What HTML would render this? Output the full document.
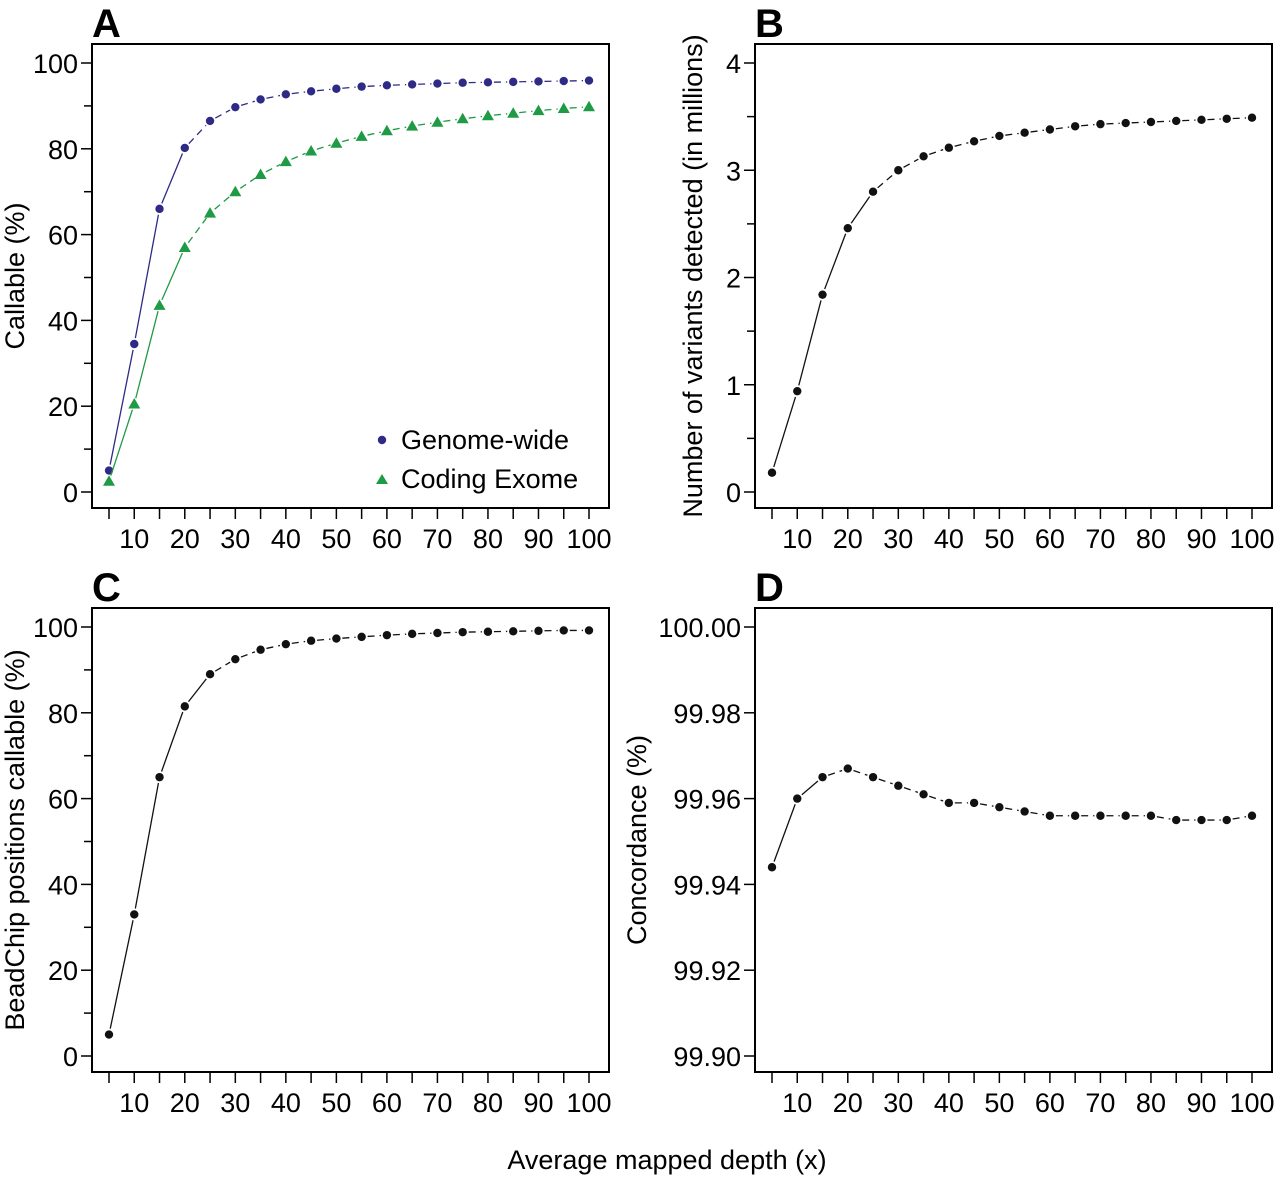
<!DOCTYPE html>
<html><head><meta charset="utf-8">
<style>
html,body{margin:0;padding:0;background:#fff;}
svg{display:block;font-family:"Liberation Sans",Arial,sans-serif;}
</style></head>
<body>
<svg id="fig" width="1280" height="1178" viewBox="0 0 1280 1178" xmlns="http://www.w3.org/2000/svg"></svg>
<script>
const depths = [5,10,15,20,25,30,35,40,45,50,55,60,65,70,75,80,85,90,95,100];
const genomeWide = [5,34.5,66,80.2,86.5,89.7,91.5,92.7,93.4,94,94.5,94.8,95,95.2,95.4,95.5,95.6,95.7,95.8,95.9];
const codingExome = [2.5,20.5,43.5,57,65,70,74,77,79.5,81.3,82.9,84.2,85.3,86.2,87,87.7,88.3,88.9,89.4,89.8];
const variantsMillions = [0.18,0.94,1.84,2.46,2.8,3.0,3.13,3.21,3.27,3.32,3.35,3.38,3.41,3.43,3.44,3.45,3.46,3.47,3.48,3.49];
const beadchipCallable = [5,33,65,81.5,89,92.5,94.7,96,96.8,97.3,97.7,98.1,98.4,98.6,98.8,98.9,99,99.1,99.2,99.2];
const concordance = [99.944,99.960,99.965,99.967,99.965,99.963,99.961,99.959,99.959,99.958,99.957,99.956,99.956,99.956,99.956,99.956,99.955,99.955,99.955,99.956];
const xTicks = [10,20,30,40,50,60,70,80,90,100];
const yTicksA = [0,20,40,60,80,100];
const yTicksB = [0,1,2,3,4];
const yTicksC = [0,20,40,60,80,100];
const yTicksD = [99.90,99.92,99.94,99.96,99.98,100.00];

const NS = "http://www.w3.org/2000/svg";
const svg = document.getElementById('fig');
function mk(tag, attrs, parent, name){
  const e = document.createElementNS(NS, tag);
  for (const k in attrs) e.setAttribute(k, attrs[k]);
  
  
  (parent||svg).appendChild(e);
  return e;
}

function panel(opt){
  const g = mk('g', {}, svg, 'panel-' + opt.letter.toLowerCase());
  const L = opt.left, R = opt.left + 517, T = opt.top, B = opt.top + 464;
  const x0 = L + 17, x1 = L + 497;
  const sx = v => x0 + (v - 5) * (x1 - x0) / 95;
  const y0 = B - 16, y1 = B - 445;
  const sy = v => y0 - (v - opt.ymin) * (y0 - y1) / (opt.ymax - opt.ymin);
  mk('rect', {x:L, y:T, width:R-L, height:B-T, fill:'none', stroke:'#000', 'stroke-width':2}, g, 'plot-frame');
  const t = mk('text', {x:L, y:T-7, 'font-size':40, 'font-weight':'bold', 'text-anchor':'start'}, g, 'panel-label');
  t.textContent = opt.letter;
  depths.forEach(d => {
    mk('line', {x1:sx(d), x2:sx(d), y1:B+1, y2:B+11, stroke:'#000', 'stroke-width':1.5}, g, 'x-tick');
  });
  xTicks.forEach(d => {
    const tx = mk('text', {x:sx(d), y:B+40, 'font-size':27, 'text-anchor':'middle'}, g, 'x-tick-label');
    tx.textContent = d;
  });
  opt.yTicks.forEach(v => {
    mk('line', {x1:L-11, x2:L-1, y1:sy(v), y2:sy(v), stroke:'#000', 'stroke-width':1.5}, g, 'y-tick');
    const ty = mk('text', {x:L-14, y:sy(v)+10, 'font-size':27, 'text-anchor':'end'}, g, 'y-tick-label');
    ty.textContent = opt.fmt ? opt.fmt(v) : v;
  });
  (opt.minor||[]).forEach(v => {
    mk('line', {x1:L-8, x2:L-1, y1:sy(v), y2:sy(v), stroke:'#000', 'stroke-width':1.5}, g, 'y-minor-tick');
  });
  const yl = mk('text', {x:0, y:0, 'font-size':27, 'text-anchor':'middle', transform:`translate(${opt.ylabX},${(T+B)/2}) rotate(-90)`}, g, 'y-axis-title');
  yl.textContent = opt.ylabel;
  opt.series.forEach(s => {
    const sg = mk('g', {}, g, 'series-' + s.name);
    for (let i = 0; i < depths.length - 1; i++){
      const ax = sx(depths[i]), ay = sy(s.values[i]), bx = sx(depths[i+1]), by = sy(s.values[i+1]);
      const dx = bx-ax, dy = by-ay, len = Math.hypot(dx,dy), gap = 6;
      if (len < 2*gap) continue;
      const ux = dx/len, uy = dy/len;
      const attrs = {x1:ax+ux*gap, y1:ay+uy*gap, x2:bx-ux*gap, y2:by-uy*gap, stroke:s.color, 'stroke-width':1.3};
      if (i >= s.solidUntil) attrs['stroke-dasharray'] = '7,5';
      mk('line', attrs, sg, 'series-line');
    }
    depths.forEach((d,i) => {
      const cx = sx(d), cy = sy(s.values[i]);
      if (s.marker === 'tri'){
        mk('path', {d:`M${cx},${cy-6} L${cx+6},${cy+4.5} L${cx-6},${cy+4.5}Z`, fill:s.color}, sg, 'point');
      } else {
        mk('circle', {cx:cx, cy:cy, r:4.2, fill:s.color}, sg, 'point');
      }
    });
  });
  return {g, sx, sy, L, R, T, B};
}

const pA = panel({letter:'A', left:92, top:44, ymin:0, ymax:100, yTicks:yTicksA, minor:[10,30,50,70,90], ylabel:'Callable (%)', ylabX:24,
  series:[{name:'genome-wide', values:genomeWide, color:'#2e2a86', marker:'dot', solidUntil:3},
          {name:'coding-exome', values:codingExome, color:'#1f9a45', marker:'tri', solidUntil:3}]});
panel({letter:'B', left:755, top:44, ymin:0, ymax:4, yTicks:yTicksB, minor:[0.5,1.5,2.5,3.5], ylabel:'Number of variants detected (in millions)', ylabX:702,
  series:[{name:'variants', values:variantsMillions, color:'#111', marker:'dot', solidUntil:4}]});
panel({letter:'C', left:92, top:608, ymin:0, ymax:100, yTicks:yTicksC, minor:[10,30,50,70,90], ylabel:'BeadChip positions callable (%)', ylabX:24,
  series:[{name:'beadchip', values:beadchipCallable, color:'#111', marker:'dot', solidUntil:4}]});
panel({letter:'D', left:755, top:608, ymin:99.90, ymax:100.00, yTicks:yTicksD, fmt:v=>v.toFixed(2), ylabel:'Concordance (%)', ylabX:646,
  series:[{name:'concordance', values:concordance, color:'#111', marker:'dot', solidUntil:2}]});

const lg = mk('g', {}, pA.g, 'legend');
mk('circle', {cx:382, cy:440, r:4.2, fill:'#2e2a86'}, lg, 'legend-marker-genome-wide');
const l1 = mk('text', {x:401, y:449, 'font-size':27}, lg, 'legend-entry-genome-wide'); l1.textContent = 'Genome-wide';
mk('path', {d:'M382,474 L388,484 L376,484Z', fill:'#1f9a45'}, lg, 'legend-marker-coding-exome');
const l2 = mk('text', {x:401, y:488, 'font-size':27}, lg, 'legend-entry-coding-exome'); l2.textContent = 'Coding Exome';

const xt = mk('text', {x:667, y:1169, 'font-size':27, 'text-anchor':'middle'}, svg, 'x-axis-title');
xt.textContent = 'Average mapped depth (x)';
</script>
</body></html>
